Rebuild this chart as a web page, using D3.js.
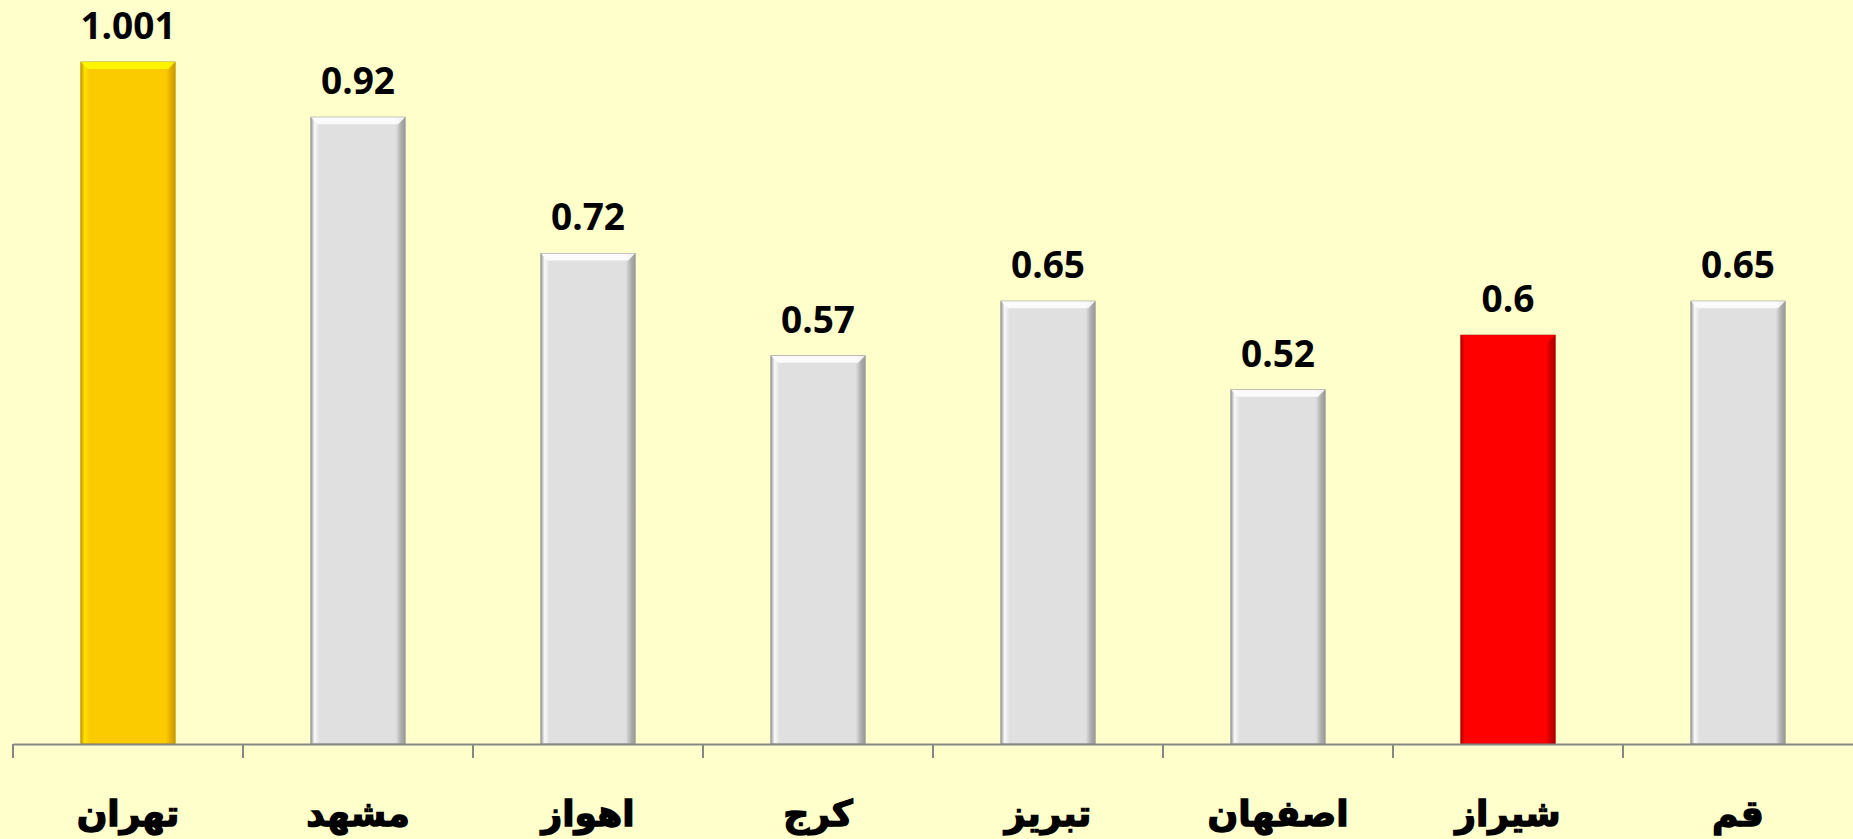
<!DOCTYPE html>
<html>
<head>
<meta charset="utf-8">
<script src="https://cdn.jsdelivr.net/npm/d3@7"></script>
<style>
  body { margin: 0; background: #FFFFCC; overflow: hidden; }
  .value-label { font-family: "Open Sans", sans-serif; font-weight: 700; font-size: 37px; fill: #000; }
  .cat-label { font-family: "DejaVu Sans", sans-serif; font-weight: 700; font-size: 36px; fill: #000; stroke: #000; stroke-width: 1.4px; }
</style>
</head>
<body>
<div id="chart"></div>
<script>
// data
var cities = ["تهران", "مشهد", "اهواز", "کرج", "تبریز", "اصفهان", "شیراز", "قم"];
var values = [1.001, 0.92, 0.72, 0.57, 0.65, 0.52, 0.6, 0.65];
var valueLabels = ["1.001", "0.92", "0.72", "0.57", "0.65", "0.52", "0.6", "0.65"];
var barColors = ["#FBCB00", "#E0E0E0", "#E0E0E0", "#E0E0E0", "#E0E0E0", "#E0E0E0", "#FF0000", "#E0E0E0"];
var edgeColors = ["#C89A00", "#9A9A9A", "#9A9A9A", "#9A9A9A", "#9A9A9A", "#9A9A9A", "#B00000", "#9A9A9A"];

var width = 1853,
    height = 839,
    baseY = 744,
    left = 13;

var svg = d3.select("#chart")
    .append("svg")
    .attr("width", width)
    .attr("height", height);

svg.append("rect")
    .attr("width", width)
    .attr("height", height)
    .attr("fill", "#FFFFCC");

var x = d3.scaleBand()
    .domain(cities)
    .range([left, width])
    .paddingInner(0.59)
    .paddingOuter(0.295);

var y = d3.scaleLinear()
    .domain([0, 1])
    .range([baseY, baseY - 681.3]);

var data = cities.map(function(c, i) {
    return { city: c, value: values[i], label: valueLabels[i], color: barColors[i], edge: edgeColors[i] };
});

// bevel gradients
var defs = svg.append("defs");
data.forEach(function(d, i) {
    var g = defs.append("linearGradient")
        .attr("id", "side" + i)
        .attr("x1", 0).attr("x2", 1).attr("y1", 0).attr("y2", 0);
    g.append("stop").attr("offset", "0%").attr("stop-color", d.edge);
    g.append("stop").attr("offset", "4%").attr("stop-color", d3.color(d.color).brighter(0.3));
    g.append("stop").attr("offset", "9%").attr("stop-color", d.color);
    g.append("stop").attr("offset", "90%").attr("stop-color", d.color);
    g.append("stop").attr("offset", "96%").attr("stop-color", d3.color(d.edge).brighter(0.3));
    g.append("stop").attr("offset", "100%").attr("stop-color", d.edge);
});

var bars = svg.selectAll(".bar")
    .data(data)
    .enter()
    .append("g")
    .attr("class", "bar");

bars.append("rect")
    .attr("x", function(d) { return x(d.city); })
    .attr("y", function(d) { return y(d.value); })
    .attr("width", x.bandwidth())
    .attr("height", function(d) { return baseY - y(d.value); })
    .attr("fill", function(d, i) { return "url(#side" + i + ")"; })
    .attr("stroke", function(d) { return d.edge; })
    .attr("stroke-width", 1);

// top bevel highlight
bars.append("path")
    .attr("d", function(d) {
        var x0 = x(d.city), x1 = x0 + x.bandwidth(), y0 = y(d.value), b = 7;
        return "M" + x0 + "," + y0 + "L" + x1 + "," + y0 + "L" + (x1 - b) + "," + (y0 + b) + "L" + (x0 + b) + "," + (y0 + b) + "Z";
    })
    .attr("fill", function(d) { return d3.color(d.color).brighter(0.6); })
    .attr("opacity", 0.85);

bars.append("text")
    .attr("class", "value-label")
    .attr("text-anchor", "middle")
    .attr("x", function(d) { return x(d.city) + x.bandwidth() / 2; })
    .attr("y", function(d) { return y(d.value) - 23; })
    .text(function(d) { return d.label; });

// axis
var axis = d3.axisBottom(x).tickSize(0).tickFormat("");
var axisG = svg.append("g")
    .attr("transform", "translate(0," + baseY + ")")
    .call(axis);
axisG.select(".domain").attr("stroke", "#878787").attr("stroke-width", 2);

axisG.selectAll(".sep")
    .data(d3.range(cities.length))
    .enter()
    .append("line")
    .attr("class", "sep")
    .attr("x1", function(i) { return x(cities[i]) - x.step() * x.paddingOuter(); })
    .attr("x2", function(i) { return x(cities[i]) - x.step() * x.paddingOuter(); })
    .attr("y1", 0)
    .attr("y2", 14)
    .attr("stroke", "#878787")
    .attr("stroke-width", 2);

svg.selectAll(".cat-label")
    .data(data)
    .enter()
    .append("text")
    .attr("class", "cat-label")
    .attr("text-anchor", "middle")
    .attr("direction", "rtl")
    .attr("x", function(d) { return x(d.city) + x.bandwidth() / 2; })
    .attr("y", 826)
    .text(function(d) { return d.city; });
</script>
</body>
</html>
